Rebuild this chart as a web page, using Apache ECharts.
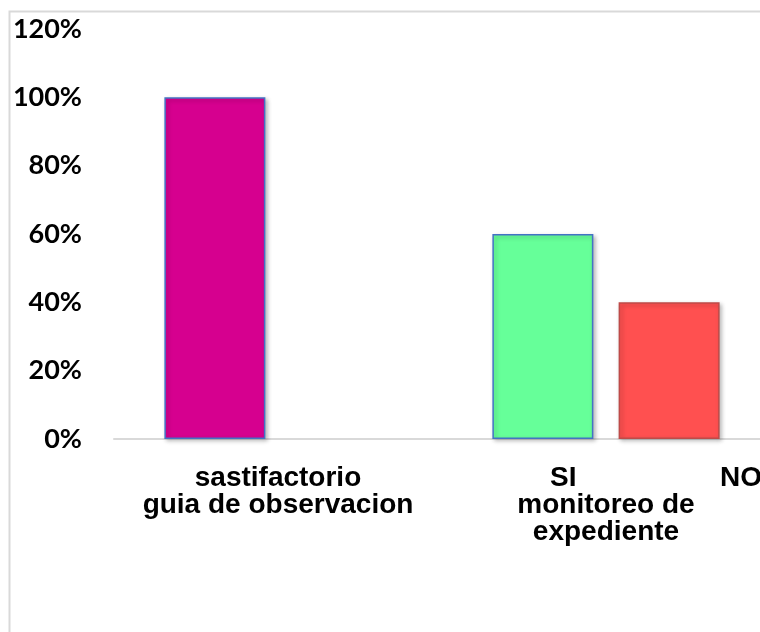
<!DOCTYPE html>
<html>
<head>
<meta charset="utf-8">
<script src="https://cdn.jsdelivr.net/npm/echarts@6/dist/echarts.min.js"></script>
<style>
  html, body { margin: 0; padding: 0; background: #ffffff; }
  #chart { width: 760px; height: 632px; }
</style>
</head>
<body>
<div id="chart"></div>
<script>
// Instrument groups on the category axis
const categories = ['guia de observacion', 'monitoreo de\nexpediente'];
// Answer labels shown above each group name
const answerLabels = [['sastifactorio'], ['SI', 'NO']];
// Percentages per answer (first answer, second answer)
const firstAnswerValues = [100, 60];
const secondAnswerValues = [null, 40];
const firstAnswerColors = ['#D6008F', '#66FF99'];
const secondAnswerColor = '#FF5050';
// Y axis ticks
const yMin = 0, yMax = 120, yStep = 20;

const labelFont = { fontFamily: 'Liberation Sans, Arial, sans-serif', fontWeight: 'bold', fontSize: 28, color: '#000', lineHeight: 27 };

const chart = echarts.init(document.getElementById('chart'), null, { renderer: 'canvas' });

chart.setOption({
  animation: false,
  backgroundColor: '#ffffff',
  graphic: [{
    type: 'rect',
    left: 7, top: 9,
    shape: { width: 820, height: 700 },
    style: { fill: 'none', stroke: '#d9d9d9', lineWidth: 2 },
    silent: true, z: -1
  }],
  grid: { left: 114, top: 29, width: 656, height: 410, containLabel: false, outerBoundsMode: 'none' },
  xAxis: {
    type: 'category',
    data: categories,
    axisLine: { show: true, lineStyle: { color: '#d9d9d9', width: 2 } },
    axisTick: { show: false },
    axisLabel: Object.assign({}, labelFont, {
      interval: 0,
      margin: 26,
      formatter: function (value, idx) {
        const ans = answerLabels[idx];
        if (ans.length === 1) return ans[0] + '\n' + value;
        return '{pad| }{a|' + ans[0] + '}{b|' + ans[1] + '}\n' + value;
      },
      rich: {
        pad: Object.assign({}, labelFont, { width: 96, align: 'left' }),
        a: Object.assign({}, labelFont, { width: 170, align: 'left' }),
        b: Object.assign({}, labelFont, { width: 38, align: 'left' })
      }
    })
  },
  yAxis: {
    type: 'value',
    min: yMin, max: yMax, interval: yStep,
    axisLine: { show: false },
    axisTick: { show: false },
    splitLine: { show: false },
    axisLabel: {
      margin: 32,
      formatter: '{value}%',
      fontFamily: 'Lato, sans-serif',
      fontWeight: 'bold',
      fontSize: 27,
      color: '#000'
    }
  },
  series: [
    {
      name: 'first',
      type: 'bar',
      barWidth: 101,
      barGap: '25%',
      data: firstAnswerValues.map((v, i) => ({
        value: v,
        itemStyle: { color: firstAnswerColors[i] }
      })),
      itemStyle: {
        borderColor: '#4472C4',
        borderWidth: 1.5,
        shadowColor: 'rgba(0,0,0,0.25)',
        shadowBlur: 4,
        shadowOffsetX: 2,
        shadowOffsetY: 2
      }
    },
    {
      name: 'second',
      type: 'bar',
      barWidth: 101,
      data: secondAnswerValues,
      itemStyle: {
        color: secondAnswerColor,
        borderColor: '#BE4B48',
        borderWidth: 1.5,
        shadowColor: 'rgba(0,0,0,0.25)',
        shadowBlur: 4,
        shadowOffsetX: 2,
        shadowOffsetY: 2
      }
    }
  ]
});
</script>
</body>
</html>
